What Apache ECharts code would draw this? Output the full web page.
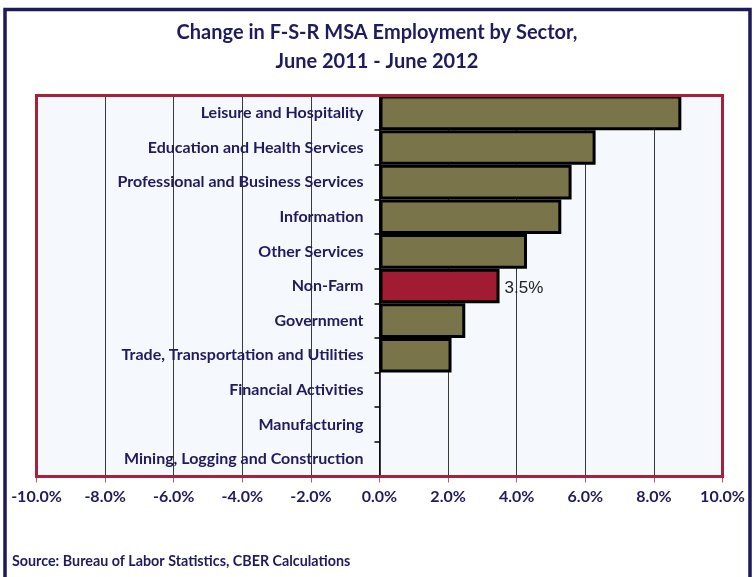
<!DOCTYPE html>
<html>
<head>
<meta charset="utf-8">
<script src="https://cdn.jsdelivr.net/npm/echarts@6/dist/echarts.min.js"></script>
<style>
  html, body { margin: 0; padding: 0; background: #ffffff; }
  #chart { width: 754px; height: 577px; }
</style>
</head>
<body>
<div id="chart"></div>
<script>
// Sectors, top to bottom
const sectors = [
  'Leisure and Hospitality',
  'Education and Health Services',
  'Professional and Business Services',
  'Information',
  'Other Services',
  'Non-Farm',
  'Government',
  'Trade, Transportation and Utilities',
  'Financial Activities',
  'Manufacturing',
  'Mining, Logging and Construction'
];
// Percent change in employment, June 2011 - June 2012
const changePct = [8.8, 6.3, 5.6, 5.3, 4.3, 3.5, 2.5, 2.1, 0, 0, 0];
const highlightSector = 'Non-Farm';

const navy = '#1e1b5e';
const plotRed = '#a8203a';
const labelFont = 'Lato, "Open Sans", sans-serif';

// Plot box in pixels
const W = 754, H = 577;
const gridLeft = 36.5, gridRight = 31.5, gridTop = 95.5, gridBottom = 100.5;
const xMin = -10, xMax = 10;
const plotWidth = W - gridLeft - gridRight;
const plotHeight = H - gridTop - gridBottom;
// Shift the category axis so it sits on the zero line
const zeroOffset = -(0 - xMin) / (xMax - xMin) * plotWidth;

const barData = sectors.map((name, i) => {
  const v = changePct[i];
  const item = { value: v };
  if (name === highlightSector) {
    item.itemStyle = { color: '#a11c32' };
    item.label = {
      show: true,
      position: 'right',
      distance: 5,
      offset: [0, 2],
      formatter: p => p.value.toFixed(1) + '%',
      fontFamily: 'Arial, "Liberation Sans", sans-serif',
      fontSize: 17,
      color: '#222222'
    };
  }
  if (v === 0) item.itemStyle = { borderWidth: 0 };
  return item;
});

const chart = echarts.init(document.getElementById('chart'), null, { renderer: 'canvas' });
chart.setOption({
  backgroundColor: '#ffffff',
  animation: false,
  title: {
    text: 'Change in F-S-R MSA Employment by Sector,\nJune 2011 - June 2012',
    left: 'center',
    top: 13,
    textStyle: {
      fontFamily: labelFont,
      fontWeight: 'bold',
      fontSize: 20,
      lineHeight: 29,
      color: navy
    }
  },
  graphic: [{
    // outer frame
    type: 'rect',
    shape: { x: 5, y: 9.5, width: 745, height: 600 },
    style: { fill: 'none', stroke: '#1c1a5a', lineWidth: 3.5 },
    silent: true,
    z: 100
  }, {
    // plot frame
    type: 'rect',
    shape: { x: gridLeft, y: gridTop, width: plotWidth, height: plotHeight },
    style: { fill: 'none', stroke: plotRed, lineWidth: 3 },
    silent: true,
    z: 50
  }, {
    type: 'text',
    left: 12,
    top: 554,
    style: {
      text: 'Source: Bureau of Labor Statistics, CBER Calculations',
      font: 'bold 14.3px Lato, "Open Sans", sans-serif',
      fill: navy
    },
    silent: true
  }],
  grid: {
    left: gridLeft,
    right: gridRight,
    top: gridTop,
    bottom: gridBottom,
    containLabel: false,
    outerBoundsMode: 'none',
    show: true,
    backgroundColor: '#f5f8fd',
    borderWidth: 0
  },
  xAxis: {
    type: 'value',
    min: xMin,
    max: xMax,
    interval: 2,
    axisLine: { show: true, onZero: false, lineStyle: { color: plotRed, width: 3 } },
    axisTick: { show: true, length: 6, lineStyle: { color: '#c0566a', width: 1 } },
    axisLabel: {
      margin: 12,
      formatter: v => v.toFixed(1) + '%',
      fontFamily: labelFont,
      fontWeight: 'bold',
      fontSize: 16,
      color: navy
    },
    splitLine: { show: true, lineStyle: { color: '#3a3a3a', width: 1 } }
  },
  yAxis: {
    type: 'category',
    data: sectors,
    inverse: true,
    position: 'left',
    offset: zeroOffset,
    axisLine: { show: true, onZero: false, lineStyle: { color: '#000000', width: 1.5 } },
    axisTick: { show: true, length: 5, lineStyle: { color: '#000000', width: 1.5 } },
    axisLabel: {
      margin: 16,
      fontFamily: labelFont,
      fontWeight: 'bold',
      fontSize: 16,
      color: navy
    },
    splitLine: { show: false },
    z: 5
  },
  series: [{
    type: 'bar',
    data: barData,
    barCategoryGap: 0,
    itemStyle: {
      color: '#7a744a',
      borderColor: '#000000',
      borderWidth: 3
    },
    z: 3
  }]
});
</script>
</body>
</html>
